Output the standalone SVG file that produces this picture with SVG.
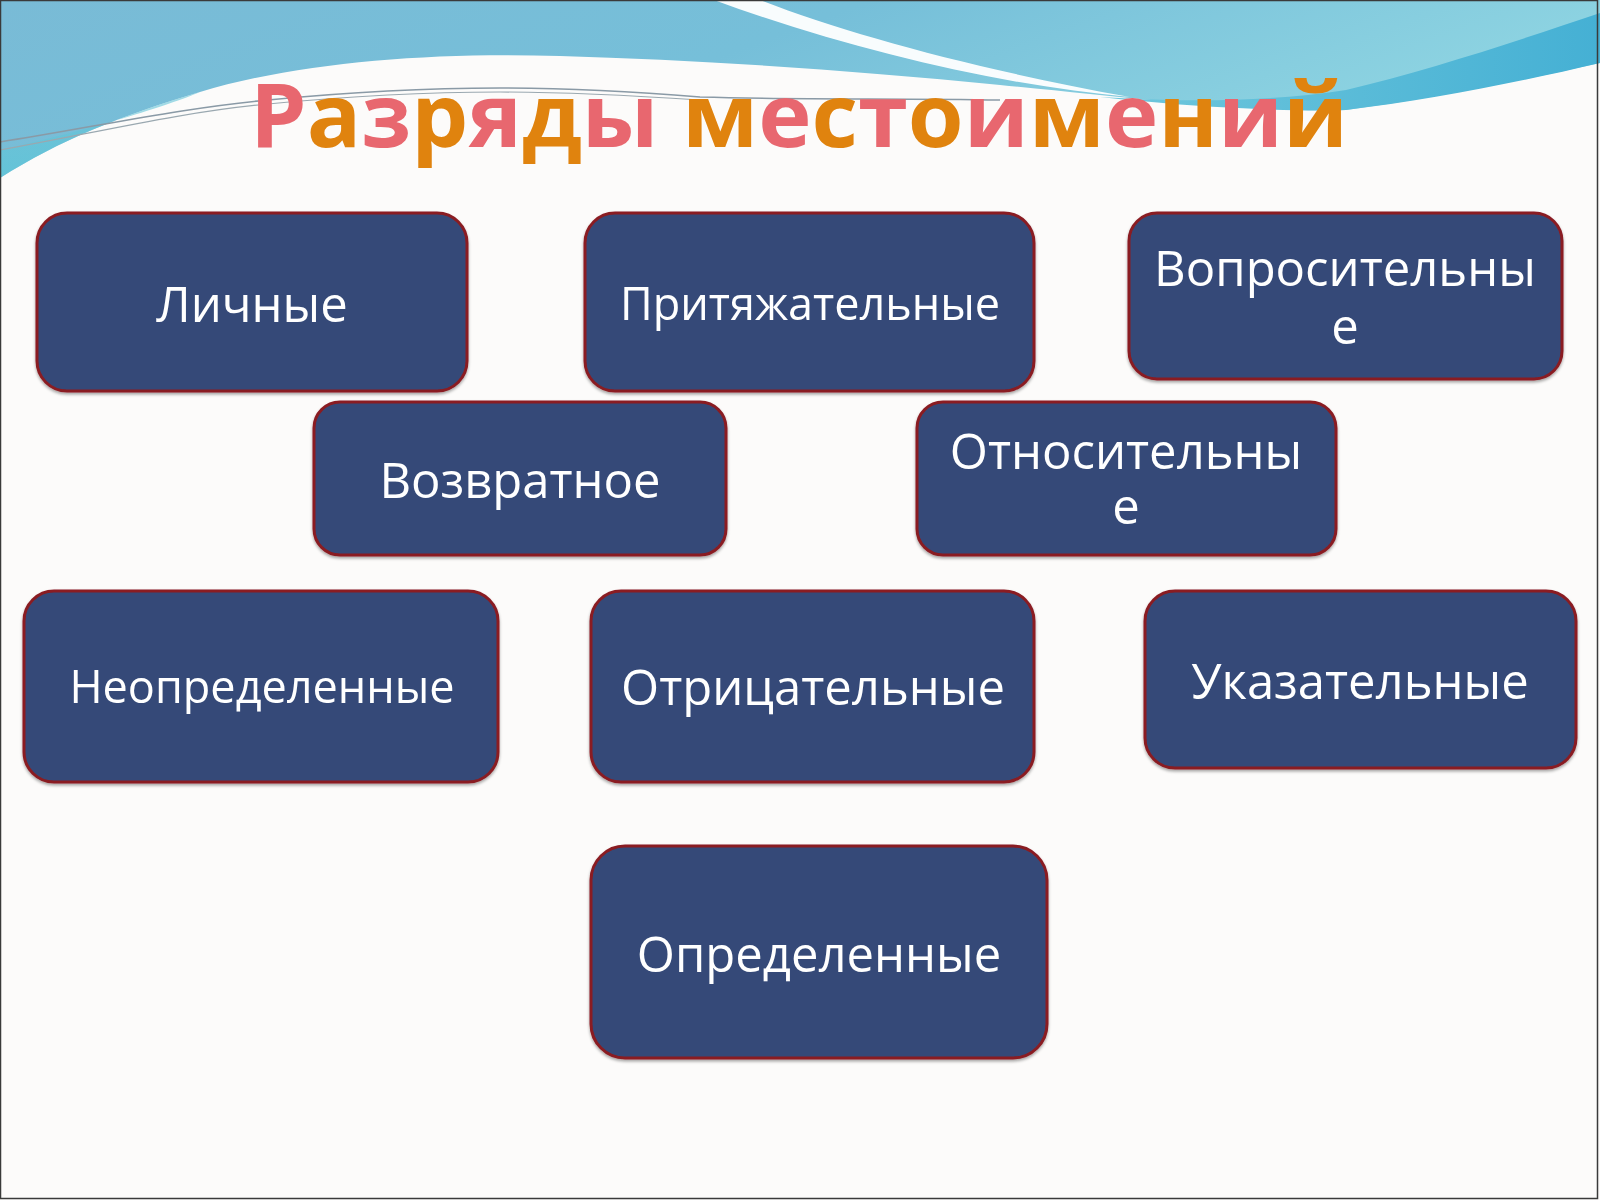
<svg xmlns="http://www.w3.org/2000/svg" width="1600" height="1200" viewBox="0 0 1600 1200">
<defs>
<style>
.box{fill:#354a78;stroke:#8a1c22;stroke-width:3}
.lbl{font-family:"Open Sans","Noto Sans","DejaVu Sans",sans-serif;fill:#ffffff;text-anchor:middle}
.p{fill:#e8676f}
.o{fill:#e0830e}
</style>
<linearGradient id="sky" x1="0" y1="0" x2="1" y2="0.3">
<stop offset="0" stop-color="#79bbd6"/>
<stop offset="0.5" stop-color="#76bfd9"/>
<stop offset="1" stop-color="#8fd5e2"/>
</linearGradient>
<linearGradient id="cyan" x1="0" y1="0" x2="0.3" y2="1">
<stop offset="0" stop-color="#6cc3d8"/>
<stop offset="1" stop-color="#55c8d8"/>
</linearGradient>
<linearGradient id="ribbon" x1="0" y1="0" x2="1" y2="0">
<stop offset="0" stop-color="#6fc7dc"/>
<stop offset="1" stop-color="#45b0d4"/>
</linearGradient>
<filter id="sh" x="-5%" y="-5%" width="110%" height="115%">
<feDropShadow dx="0" dy="2" stdDeviation="1.5" flood-color="#000" flood-opacity="0.35"/>
</filter>
</defs>
<rect x="0" y="0" width="1600" height="1200" fill="#fcfbfa"/>
<g id="background">
<path d="M0,0 H1600 V63 C1500,85 1420,100 1346,110 C1250,112 1150,100 1000,85 C850,70 700,60 560,56 C430,52 300,62 200,92 C120,116 60,140 0,178 Z" fill="url(#sky)"/>
<path d="M0,178 C60,140 120,116 200,92 C170,105 90,130 0,150 Z" fill="url(#cyan)" opacity="0.6"/>
<path d="M714,0 L760,0 C850,35 980,70 1130,97 C1000,85 850,50 714,0 Z" fill="#ffffff" opacity="0.95"/>
<path d="M1600,13 C1520,40 1430,70 1346,90 C1250,105 1150,100 1100,97 C1200,108 1300,112 1346,110 C1430,100 1520,82 1600,63 Z" fill="url(#ribbon)"/>
<path d="M0,142 C90,128 180,108 268,100 C350,92 420,88 500,88 C560,88 640,92 700,97 C800,100 900,98 1000,100" fill="none" stroke="#8a9aa6" stroke-width="1.5"/>
<path d="M0,150 C90,134 180,112 268,104 C350,96 420,92 500,92 C560,92 640,96 700,100" fill="none" stroke="#9aa8b0" stroke-width="1.2"/>
<rect x="0.5" y="0.5" width="1597" height="1198" fill="none" stroke="#3a3a3a" stroke-width="1.5"/>
</g>
<g id="title">
<text x="250" y="147" textLength="1098" lengthAdjust="spacingAndGlyphs" font-family="'Open Sans','Noto Sans','DejaVu Sans',sans-serif" font-weight="bold" font-size="88"><tspan class="p">Р</tspan><tspan class="o">а</tspan><tspan class="p">з</tspan><tspan class="o">р</tspan><tspan class="p">я</tspan><tspan class="o">д</tspan><tspan class="p">ы</tspan> <tspan class="o">м</tspan><tspan class="p">е</tspan><tspan class="o">с</tspan><tspan class="p">т</tspan><tspan class="o">о</tspan><tspan class="p">и</tspan><tspan class="o">м</tspan><tspan class="p">е</tspan><tspan class="o">н</tspan><tspan class="p">и</tspan><tspan class="o">й</tspan></text>
</g>
<g id="n-lichnye" filter="url(#sh)">
<rect class="box" x="37" y="213" width="430" height="178" rx="30"/>
<text class="lbl" x="252" y="322" font-size="49">Личные</text>
</g>
<g id="n-prityazh" filter="url(#sh)">
<rect class="box" x="585" y="213" width="449" height="178" rx="30"/>
<text class="lbl" x="810" y="320" font-size="45">Притяжательные</text>
</g>
<g id="n-voprosit" filter="url(#sh)">
<rect class="box" x="1129" y="213" width="433" height="166" rx="28"/>
<text class="lbl" x="1345" y="286" font-size="49">Вопросительны<tspan x="1345" dy="58">е</tspan></text>
</g>
<g id="n-vozvrat" filter="url(#sh)">
<rect class="box" x="314" y="402" width="412" height="153" rx="26"/>
<text class="lbl" x="520" y="498" font-size="49">Возвратное</text>
</g>
<g id="n-otnosit" filter="url(#sh)">
<rect class="box" x="917" y="402" width="419" height="153" rx="26"/>
<text class="lbl" x="1126" y="469" font-size="49">Относительны<tspan x="1126" dy="55">е</tspan></text>
</g>
<g id="n-neopr" filter="url(#sh)">
<rect class="box" x="24" y="591" width="474" height="191" rx="30"/>
<text class="lbl" x="262" y="703" font-size="45">Неопределенные</text>
</g>
<g id="n-otric" filter="url(#sh)">
<rect class="box" x="591" y="591" width="443" height="191" rx="30"/>
<text class="lbl" x="813" y="705" font-size="49">Отрицательные</text>
</g>
<g id="n-ukaz" filter="url(#sh)">
<rect class="box" x="1145" y="591" width="431" height="177" rx="30"/>
<text class="lbl" x="1360" y="699" font-size="49">Указательные</text>
</g>
<g id="n-opr" filter="url(#sh)">
<rect class="box" x="591" y="846" width="456" height="212" rx="34"/>
<text class="lbl" x="819" y="972" font-size="49">Определенные</text>
</g>
<g id="connectors"></g>
</svg>
